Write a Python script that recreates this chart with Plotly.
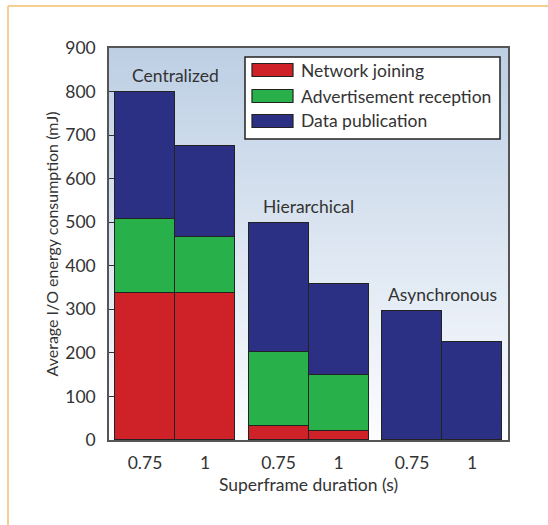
import plotly.graph_objects as go

# ---- data ----
groups = ["Centralized", "Hierarchical", "Asynchronous"]
durations = ["0.75", "1"]
network_joining = [338, 338, 33, 21, None, None]
advertisement_reception = [169, 128, 169, 128, None, None]
data_publication = [293, 209, 296, 209, 297, 225]
series_names = ["Network joining", "Advertisement reception", "Data publication"]
series_colors = ["#cf2128", "#28b14b", "#2b3085"]
y_ticks = [0, 100, 200, 300, 400, 500, 600, 700, 800, 900]

# ---- layout helpers ----
W, H = 548, 525
PL, PR, PT, PB = 109, 508, 48, 440
GROUP_STEP = 2.225
FONT = "Lato"
TXT = "#333333"
FS = 17.5

xpos = []
xlabels = []
group_centers = []
for g, _ in enumerate(groups):
    base = g * GROUP_STEP
    for i, d in enumerate(durations):
        xpos.append(base + i)
        xlabels.append(d)
    group_centers.append(base + (len(durations) - 1) / 2)

series = [network_joining, advertisement_reception, data_publication]

fig = go.Figure()
for name, vals, col in zip(series_names, series, series_colors):
    fig.add_trace(go.Bar(
        x=xpos, y=vals, name=name, width=1.0,
        marker=dict(color=col, line=dict(color="#222222", width=1.5)),
        showlegend=False,
    ))

def px_x(p):
    return (p - PL) / (PR - PL)

def px_y(p):
    return (PB - p) / (PB - PT)

shapes = []
# gradient background
n = 60
top = (189, 207, 228)
bot = (252, 253, 255)
for k in range(n):
    t = k / n
    c = tuple(int(round(bot[j] + (top[j] - bot[j]) * (t + 0.5 / n))) for j in range(3))
    shapes.append(dict(type="rect", xref="x domain", yref="y domain",
                       x0=0, x1=1, y0=k / n, y1=min(1, (k + 1) / n + 0.002),
                       fillcolor="rgb(%d,%d,%d)" % c, line=dict(width=0), layer="below"))

# outer card border (left and top edges visible)
border = dict(color="#f3cf92", width=2)
shapes.append(dict(type="line", xref="paper", yref="paper", layer="above",
                   x0=px_x(8), x1=px_x(8), y0=px_y(530), y1=px_y(6), line=border))
shapes.append(dict(type="line", xref="paper", yref="paper", layer="above",
                   x0=px_x(8), x1=px_x(560), y0=px_y(6), y1=px_y(6), line=border))

annotations = []
# group labels
totals = []
for i in range(len(xpos)):
    s = sum(v for v in (network_joining[i], advertisement_reception[i], data_publication[i]) if v)
    totals.append(s)
for g, name in enumerate(groups):
    gmax = max(totals[g * 2:(g + 1) * 2])
    annotations.append(dict(x=group_centers[g], y=gmax, xref="x", yref="y",
                            text=name, showarrow=False, yanchor="bottom", yshift=4,
                            font=dict(family=FONT, size=FS, color=TXT)))

# manual legend
shapes.append(dict(type="rect", xref="paper", yref="paper",
                   x0=px_x(245), x1=px_x(500), y0=px_y(139), y1=px_y(57),
                   fillcolor="white", line=dict(color="#222222", width=1.5)))
rows = [70, 96, 121]
for name, col, cy in zip(series_names, series_colors, rows):
    shapes.append(dict(type="rect", xref="paper", yref="paper",
                       x0=px_x(252), x1=px_x(293), y0=px_y(cy + 6.5), y1=px_y(cy - 6.5),
                       fillcolor=col, line=dict(color="#222222", width=1.2)))
    annotations.append(dict(x=px_x(299), y=px_y(cy), xref="paper", yref="paper",
                            text=name, showarrow=False, xanchor="left", yanchor="middle",
                            font=dict(family=FONT, size=FS, color=TXT)))

fig.update_layout(
    width=W, height=H,
    margin=dict(l=PL, r=W - PR, t=PT, b=H - PB, autoexpand=False),
    paper_bgcolor="white", plot_bgcolor="white",
    barmode="stack", bargap=0,
    shapes=shapes, annotations=annotations,
    font=dict(family=FONT, color=TXT),
    xaxis=dict(
        range=[-0.6, xpos[-1] + 0.6],
        tickvals=xpos, ticktext=xlabels,
        tickfont=dict(family=FONT, size=FS, color=TXT),
        showgrid=False, zeroline=False, automargin=False,
        showline=True, linecolor="#555555", linewidth=1.5, mirror=True,
        ticks="", ticklabelstandoff=6,
        title=dict(text="Superframe duration (s)", font=dict(family=FONT, size=FS, color=TXT), standoff=7),
    ),
    yaxis=dict(
        range=[0, 900],
        tickvals=y_ticks,
        tickfont=dict(family=FONT, size=FS, color=TXT),
        showgrid=False, zeroline=False, automargin=False,
        showline=True, linecolor="#555555", linewidth=1.5, mirror=True,
        ticks="inside", ticklen=5, tickcolor="#333333", tickwidth=1.2,
        ticklabelstandoff=8,
        title=dict(text="Average I/O energy consumption (mJ)", font=dict(family=FONT, size=16, color=TXT), standoff=3),
    ),
)

fig.write_html("out.html", config={"displayModeBar": False},
               post_script="document.body.style.margin='0';document.body.style.overflow='hidden';")
